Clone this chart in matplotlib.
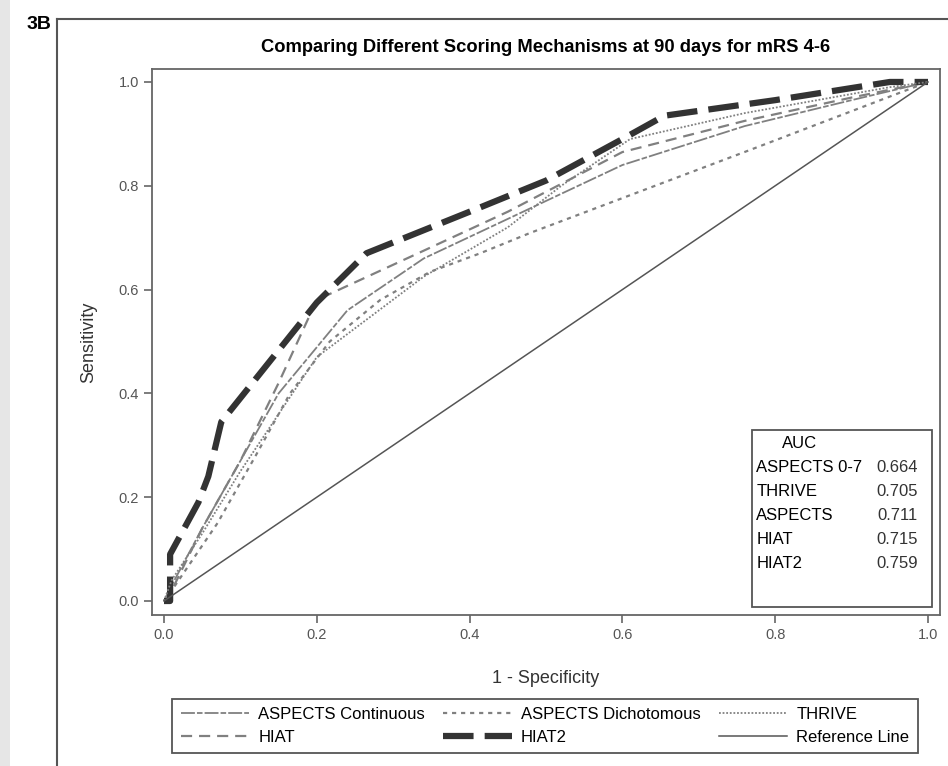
import matplotlib
matplotlib.use('Agg')
import matplotlib.pyplot as plt
from matplotlib.lines import Line2D
from matplotlib.patches import Rectangle

plt.rcParams['font.family'] = ['Liberation Sans', 'DejaVu Sans']
plt.rcParams['lines.scale_dashes'] = False

# ROC curves (1 - specificity, sensitivity)
fpr_asp_cont = [0, 0.01, 0.05, 0.10, 0.15, 0.24, 0.34, 0.47, 0.60, 0.76, 0.90, 1.0]
tpr_asp_cont = [0, 0.03, 0.14, 0.27, 0.40, 0.56, 0.66, 0.75, 0.84, 0.915, 0.965, 1.0]

fpr_asp_dich = [0, 0.01, 0.07, 0.12, 0.165, 0.217, 0.283, 0.348, 0.414, 0.479, 0.767, 1.0]
tpr_asp_dich = [0, 0.02, 0.15, 0.28, 0.40, 0.50, 0.58, 0.634, 0.67, 0.709, 0.869, 1.0]

fpr_thrive = [0, 0.01, 0.05, 0.10, 0.20, 0.34, 0.45, 0.52, 0.61, 0.76, 0.95, 1.0]
tpr_thrive = [0, 0.04, 0.13, 0.25, 0.47, 0.625, 0.72, 0.80, 0.89, 0.94, 0.99, 1.0]

fpr_hiat = [0, 0.01, 0.05, 0.10, 0.15, 0.20, 0.34, 0.45, 0.60, 0.76, 0.90, 1.0]
tpr_hiat = [0, 0.02, 0.14, 0.27, 0.42, 0.58, 0.675, 0.75, 0.865, 0.925, 0.97, 1.0]

fpr_hiat2 = [0, 0.008, 0.008, 0.045, 0.058, 0.075, 0.20, 0.265, 0.40, 0.50, 0.60, 0.655, 0.80, 0.95, 1.0]
tpr_hiat2 = [0, 0.0, 0.09, 0.19, 0.24, 0.345, 0.575, 0.67, 0.75, 0.81, 0.89, 0.935, 0.965, 1.0, 1.0]

fpr_ref = [0, 1]
tpr_ref = [0, 1]

auc_names = ['ASPECTS 0-7', 'THRIVE', 'ASPECTS', 'HIAT', 'HIAT2']
auc_vals = ['0.664', '0.705', '0.711', '0.715', '0.759']

fig = plt.figure(figsize=(9.48, 7.66), dpi=100)

# page decorations: grey strip, frame and panel label
fig.patches.append(Rectangle((0, 0), 10/948, 1, transform=fig.transFigure,
                             facecolor='#e6e6e6', edgecolor='none'))
fig.lines.append(Line2D([57/948, 1], [1 - 19/766, 1 - 19/766], transform=fig.transFigure,
                        color='#555555', lw=1.5))
fig.lines.append(Line2D([57/948, 57/948], [0, 1 - 19/766], transform=fig.transFigure,
                        color='#555555', lw=1.5))
fig.text(27/948, 1 - 29/766, '3B', fontsize=14, fontweight='bold', ha='left', va='baseline')

ax = fig.add_axes([152/948, 151/766, 788/948, 546/766])

ax.plot(fpr_asp_cont, tpr_asp_cont, color='#808080', lw=1.3, dashes=(10, 1.5, 4, 1.5),
        label='ASPECTS Continuous')
ax.plot(fpr_hiat, tpr_hiat, color='#808080', lw=1.6, dashes=(8, 5), label='HIAT')
ax.plot(fpr_asp_dich, tpr_asp_dich, color='#808080', lw=1.6, dashes=(3, 3.5),
        label='ASPECTS Dichotomous')
ax.plot(fpr_hiat2, tpr_hiat2, color='#333333', lw=4.5, dashes=(22, 8), label='HIAT2')
ax.plot(fpr_thrive, tpr_thrive, color='#808080', lw=1.3, dashes=(1.3, 1.3), label='THRIVE')
ax.plot(fpr_ref, tpr_ref, color='#555555', lw=1.1, label='Reference Line')

ax.set_xlim(-0.0157, 1.0157)
ax.set_ylim(-0.027, 1.025)
ax.set_xticks([0, 0.2, 0.4, 0.6, 0.8, 1.0])
ax.set_yticks([0, 0.2, 0.4, 0.6, 0.8, 1.0])
ax.xaxis.set_major_formatter(matplotlib.ticker.FormatStrFormatter('%.1f'))
ax.yaxis.set_major_formatter(matplotlib.ticker.FormatStrFormatter('%.1f'))
ax.tick_params(direction='out', length=6, width=1.2, color='#666666',
               labelcolor='#555555', labelsize=10.5)
for s in ax.spines.values():
    s.set_color('#666666')
    s.set_linewidth(1.3)

ax.set_xlabel('1 - Specificity', fontsize=13, color='#333333', labelpad=20)
ax.set_ylabel('Sensitivity', fontsize=13, color='#333333', labelpad=15)
ax.set_title('Comparing Different Scoring Mechanisms at 90 days for mRS 4-6',
             fontsize=13.2, fontweight='bold', pad=12)

# AUC inset box
ax.add_patch(Rectangle((0.761, 0.0147), 0.229, 0.324, transform=ax.transAxes,
                       facecolor='white', edgecolor='#555555', lw=1.3))
ax.text(0.822, 0.315, 'AUC', transform=ax.transAxes, fontsize=12, ha='center', va='center')
for i, (n, v) in enumerate(zip(auc_names, auc_vals)):
    y = 0.27 - i * 0.044
    ax.text(0.767, y, n, transform=ax.transAxes, fontsize=12, ha='left', va='center')
    ax.text(0.972, y, v, transform=ax.transAxes, fontsize=12, ha='right', va='center',
            color='#333333')

handles, labels = ax.get_legend_handles_labels()
leg = fig.legend(handles, labels, ncol=3, loc='center', bbox_to_anchor=(545/948, 1 - 726/766),
                 fontsize=12, handlelength=4.1, handletextpad=0.55, columnspacing=1.1,
                 labelspacing=0.45, borderpad=0.5, fancybox=False, edgecolor='#555555',
                 framealpha=1)
leg.get_frame().set_linewidth(1.3)

fig.savefig('out.png', dpi=100)
